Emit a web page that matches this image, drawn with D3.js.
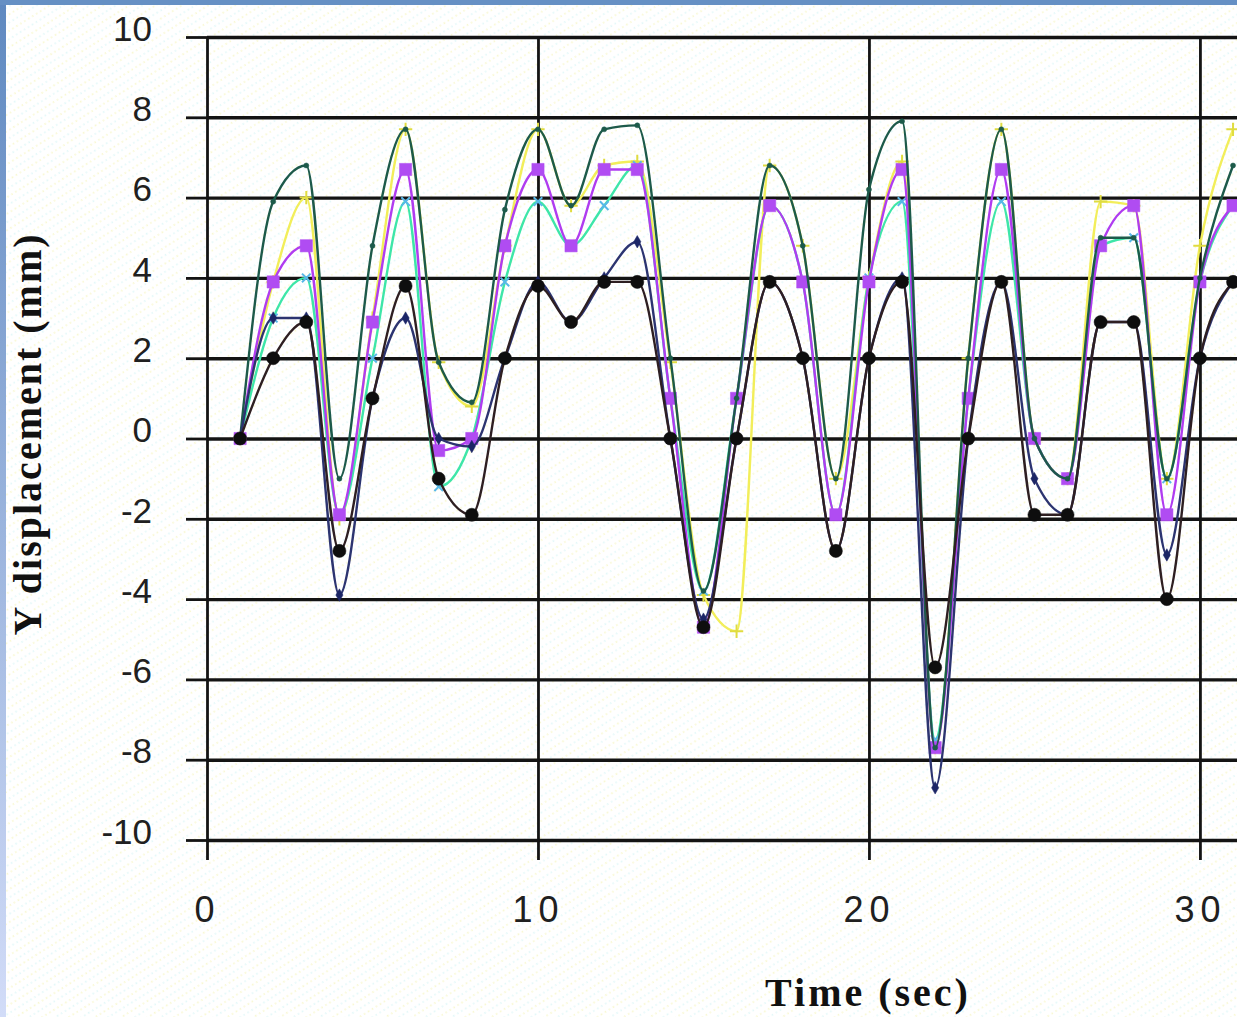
<!DOCTYPE html>
<html lang="en">
<head>
<meta charset="utf-8">
<title>Y displacement</title>
<script src="https://cdn.jsdelivr.net/npm/d3@7"></script>
<style>
  body { margin: 0; background: #fff; }
  svg { display: block; }
</style>
</head>
<body>
<script>

// Chart data (one value per second, t = 1..31)
var times   = [1, 2, 3, 4, 5, 6, 7, 8, 9, 10, 11, 12, 13, 14, 15, 16, 17, 18, 19, 20, 21, 22, 23, 24, 25, 26, 27, 28, 29, 30, 31];
var black   = [0, 2, 2.9, -2.8, 1, 3.8, -1, -1.9, 2, 3.8, 2.9, 3.9, 3.9, 0, -4.7, 0, 3.9, 2, -2.8, 2, 3.9, -5.7, 0, 3.9, -1.9, -1.9, 2.9, 2.9, -4, 2, 3.9];
var navy    = [0, 3, 3, -3.9, 1, 3, 0, -0.2, 2, 3.9, 2.9, 4, 4.9, 0, -4.5, 0, 3.9, 2, -2.8, 2, 4, -8.7, 0, 3.9, -1, -1.9, 2.9, 2.9, -2.9, 2, 3.9];
var teal    = [0, 5.9, 6.8, -1, 4.8, 7.7, 1.9, 0.9, 5.7, 7.7, 5.8, 7.7, 7.8, 2, -3.8, 1, 6.8, 4.8, -1, 6.2, 7.9, -7.7, 2, 7.7, 0, -1, 5, 5, -1, 4, 6.8];
var magenta = [0, 3.9, 4.8, -1.9, 2.9, 6.7, -0.3, 0, 4.8, 6.7, 4.8, 6.7, 6.7, 1, -4.7, 1, 5.8, 3.9, -1.9, 3.9, 6.7, -7.7, 1, 6.7, 0, -1, 4.8, 5.8, -1.9, 3.9, 5.8];
var yellow  = [0, 3.9, 6, -2, 3, 7.7, 1.9, 0.8, 4.8, 7.7, 5.8, 6.8, 6.9, 1.9, -3.9, -4.8, 6.8, 4.8, -1, 4, 6.9, -7.7, 2, 7.7, 0, -1, 5.9, 5.8, -1, 4.8, 7.7];
var cyan    = [0, 3, 4, -1.9, 2, 5.9, -1.2, 0, 3.9, 5.9, 4.8, 5.8, 6.8, 1, -3.8, 1, 5.8, 3.9, -1.9, 4, 5.9, -7.5, 1, 5.9, 0, -1, 4.8, 5, -1, 3.9, 5.8];

var xTicks = [0, 10, 20, 30];
var yTicks = [-10, -8, -6, -4, -2, 0, 2, 4, 6, 8, 10];

//Width and height
var w = 1237;
var h = 1017;

var svg = d3.select("body")
            .append("svg")
            .attr("width", w)
            .attr("height", h);

//Scales
var xScale = d3.scaleLinear().domain([0, 31.12]).range([207, 1237]);
var yScale = d3.scaleLinear().domain([-10, 10]).range([840, 37]);

//Plain hyphen labels, as in the picture
var plain = function(d) { return String(d); };

//Background texture and frame
var defs = svg.append("defs");
var pat = defs.append("pattern")
              .attr("id", "tex")
              .attr("patternUnits", "userSpaceOnUse")
              .attr("width", 14)
              .attr("height", 14)
              .attr("patternTransform", "rotate(-32)");
pat.append("line").attr("x1", 0).attr("x2", 14).attr("y1", 3).attr("y2", 3)
   .attr("stroke", "#f2f0a0").attr("stroke-width", 1.4).attr("stroke-dasharray", "1.4 3.2");
pat.append("line").attr("x1", 0).attr("x2", 14).attr("y1", 10).attr("y2", 10)
   .attr("stroke", "#c4f0f2").attr("stroke-width", 1.4).attr("stroke-dasharray", "1.4 3.2");

var grad = defs.append("linearGradient")
               .attr("id", "edge")
               .attr("x1", 0).attr("y1", 0).attr("x2", 0).attr("y2", 1);
grad.append("stop").attr("offset", "0%").attr("stop-color", "#5f89c0");
grad.append("stop").attr("offset", "100%").attr("stop-color", "#d2dcf8");

svg.append("rect").attr("width", w).attr("height", h).attr("fill", "url(#tex)").attr("opacity", 0.6);
svg.append("rect").attr("x", 0).attr("y", 0).attr("width", 6).attr("height", h).attr("fill", "url(#edge)");
svg.append("rect").attr("x", 0).attr("y", 0).attr("width", w).attr("height", 5).attr("fill", "#6690c4");

//Horizontal grid lines
svg.append("g")
   .attr("transform", "translate(207,0)")
   .call(d3.axisRight(yScale).tickValues(yTicks).tickSize(w - 207).tickFormat(""))
   .call(function(g) { g.select(".domain").remove(); })
   .selectAll("line")
   .attr("stroke", "#141414")
   .attr("stroke-width", 3.4);

//Vertical grid lines
svg.append("g")
   .attr("transform", "translate(0,840)")
   .call(d3.axisTop(xScale).tickValues(xTicks).tickSize(840 - 37).tickFormat(""))
   .call(function(g) { g.select(".domain").remove(); })
   .selectAll("line")
   .attr("stroke", "#141414")
   .attr("stroke-width", 2.8);

//Y axis ticks and labels
var yAxis = svg.append("g")
   .attr("transform", "translate(207,0)")
   .call(d3.axisLeft(yScale).tickValues(yTicks).tickFormat(plain).tickSize(21).tickPadding(34));
yAxis.select(".domain").remove();
yAxis.selectAll("line").attr("stroke", "#141414").attr("stroke-width", 2.8);
yAxis.selectAll("text")
     .attr("y", -8)
     .attr("font-family", "'Liberation Sans', Arial, sans-serif")
     .attr("font-size", "35px")
     .attr("fill", "#202020");

//X axis ticks and labels
var xAxis = svg.append("g")
   .attr("transform", "translate(0,840)")
   .call(d3.axisBottom(xScale).tickValues(xTicks).tickFormat(plain).tickSize(20).tickPadding(10));
xAxis.select(".domain").remove();
xAxis.selectAll("line").attr("stroke", "#141414").attr("stroke-width", 2.8);
xAxis.selectAll("text")
     .attr("dy", null)
     .attr("y", 82)
     .attr("font-family", "'Liberation Sans', Arial, sans-serif")
     .attr("font-size", "36px")
     .attr("letter-spacing", "6px")
     .attr("fill", "#202020");

//Series definitions
var series = [
  { name: "yellow",  values: yellow,  line: "#f2ee5a", mark: "#e0dc40", symbol: d3.symbolPlus,   size: 60,  fill: false },
  { name: "cyan",    values: cyan,    line: "#3ee6a8", mark: "#58b8e8", symbol: d3.symbolTimes,  size: 50,  fill: false },
  { name: "magenta", values: magenta, line: "#b03cf0", mark: "#b04cf2", symbol: d3.symbolSquare, size: 150, fill: true },
  { name: "teal",    values: teal,    line: "#1d5a4a", mark: "#1d5a4a", symbol: d3.symbolCircle, size: 20,  fill: true },
  { name: "navy",    values: navy,    line: "#2c3470", mark: "#1c2666", symbol: d3.symbolDiamond, size: 45, fill: true },
  { name: "black",   values: black,   line: "#2e1f22", mark: "#0e0e0e", symbol: d3.symbolCircle, size: 135, fill: true }
];

var line = d3.line()
             .x(function(d, i) { return xScale(times[i]); })
             .y(function(d) { return yScale(d); })
             .curve(d3.curveMonotoneX);

var groups = svg.selectAll("g.series")
   .data(series)
   .enter()
   .append("g")
   .attr("class", "series");

groups.append("path")
      .attr("d", function(s) { return line(s.values); })
      .attr("fill", "none")
      .attr("stroke", function(s) { return s.line; })
      .attr("stroke-width", 2.4);

groups.each(function(s) {
  d3.select(this).selectAll("path.mark")
    .data(s.values)
    .enter()
    .append("path")
    .attr("class", "mark")
    .attr("transform", function(d, i) { return "translate(" + xScale(times[i]) + "," + yScale(d) + ")"; })
    .attr("d", d3.symbol().type(s.symbol).size(s.size))
    .attr("fill", s.fill ? s.mark : "none")
    .attr("stroke", s.mark)
    .attr("stroke-width", s.fill ? 0.5 : 2);
});

//Axis titles
svg.append("text")
   .attr("x", 868)
   .attr("y", 1006)
   .attr("text-anchor", "middle")
   .attr("font-family", "'Liberation Serif', 'Times New Roman', serif")
   .attr("font-weight", "bold")
   .attr("font-size", "40px")
   .attr("letter-spacing", "3px")
   .attr("fill", "#111")
   .text("Time (sec)");

svg.append("text")
   .attr("transform", "translate(41,434) rotate(-90)")
   .attr("text-anchor", "middle")
   .attr("font-family", "'Liberation Serif', 'Times New Roman', serif")
   .attr("font-weight", "bold")
   .attr("font-size", "40px")
   .attr("letter-spacing", "2px")
   .attr("fill", "#111")
   .text("Y displacement (mm)");

</script>
</body>
</html>
